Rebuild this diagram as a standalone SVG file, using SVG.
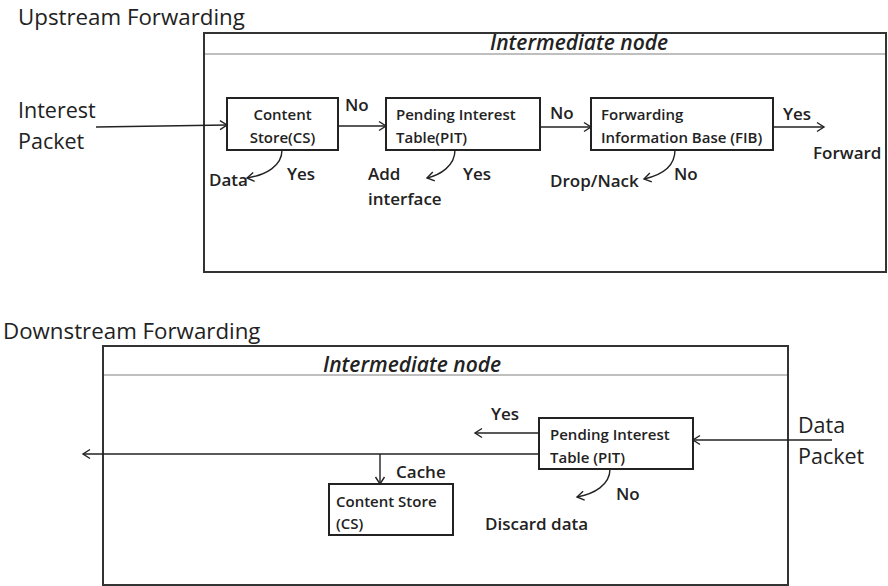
<svg xmlns="http://www.w3.org/2000/svg" width="888" height="586" viewBox="0 0 888 586">
  <defs>
    <marker id="arrow" markerUnits="userSpaceOnUse" markerWidth="12" markerHeight="12" refX="9" refY="6" orient="auto">
      <path d="M2,1.5 L9,6 L2,10.5" fill="none" stroke="#222" stroke-width="1.4"/>
    </marker>
    <style>
      .title { font-family: "Open Sans", "Liberation Sans", sans-serif; font-size: 22.3px; fill: #222; }
      .ext { font-family: "Open Sans", "Liberation Sans", sans-serif; font-size: 21.5px; fill: #222; }
      .hdr { font-family: "Open Sans", "Liberation Sans", sans-serif; font-size: 21px; font-weight: 600; font-style: italic; fill: #222; }
      .box { fill: #fff; stroke: #222; stroke-width: 2; }
      .frame { fill: #fff; stroke: #333; stroke-width: 2; }
      .sep { stroke: #aaa; stroke-width: 1.5; }
      .blab { font-family: "Open Sans", "Liberation Sans", sans-serif; font-size: 15px; font-weight: 600; fill: #222; }
      .lab { font-family: "Open Sans", "Liberation Sans", sans-serif; font-size: 17px; font-weight: 600; fill: #222; }
      .conn { fill: none; stroke: #222; stroke-width: 1.4; marker-end: url(#arrow); }
    </style>
  </defs>

  <rect width="888" height="586" fill="#fff"/>

  <!-- Upstream section -->
  <text class="title" x="18" y="25">Upstream Forwarding</text>

  <g id="upstream-node">
    <rect class="frame" x="204" y="33" width="682" height="239"/>
    <line class="sep" x1="205" y1="54" x2="885" y2="54"/>
    <text class="hdr" x="490" y="50">Intermediate node</text>
  </g>

  <g id="interest-packet">
    <text class="ext" x="18" y="118">Interest</text>
    <text class="ext" x="18" y="149">Packet</text>
  </g>

  <g id="up-cs">
    <rect class="box" x="227" y="98" width="111" height="52"/>
    <text class="blab" x="282.5" y="120" text-anchor="middle">Content</text>
    <text class="blab" x="282.5" y="143" text-anchor="middle">Store(CS)</text>
  </g>

  <g id="up-pit">
    <rect class="box" x="386" y="98" width="154" height="52"/>
    <text class="blab" x="396" y="120">Pending Interest</text>
    <text class="blab" x="396" y="143">Table(PIT)</text>
  </g>

  <g id="up-fib">
    <rect class="box" x="591" y="98" width="182" height="52"/>
    <text class="blab" x="601" y="120">Forwarding</text>
    <text class="blab" x="601" y="143">Information Base (FIB)</text>
  </g>

  <!-- Downstream section -->
  <text class="title" x="3" y="339">Downstream Forwarding</text>

  <g id="downstream-node">
    <rect class="frame" x="103" y="346" width="685" height="239"/>
    <line class="sep" x1="104" y1="375" x2="787" y2="375"/>
    <text class="hdr" x="323" y="372">Intermediate node</text>
  </g>

  <g id="data-packet">
    <text class="ext" x="798" y="433">Data</text>
    <text class="ext" x="798" y="464">Packet</text>
  </g>

  <g id="down-pit">
    <rect class="box" x="539" y="418" width="154" height="51"/>
    <text class="blab" x="550" y="440">Pending Interest</text>
    <text class="blab" x="550" y="463">Table (PIT)</text>
  </g>

  <g id="down-cs">
    <rect class="box" x="329" y="484" width="124" height="51"/>
    <text class="blab" x="336" y="507">Content Store</text>
    <text class="blab" x="336" y="529">(CS)</text>
  </g>

  <!-- Connectors -->
  <g id="connectors">
    <path class="conn" d="M96,127 L227,125"/>
    <path class="conn" d="M338,126 L386,126"/>
    <path class="conn" d="M540,127 L591,127"/>
    <path class="conn" d="M773,127 L824,127"/>
    <path class="conn" d="M282,150 C282,166 266,175 247,178"/>
    <path class="conn" d="M455,150 C455,166 440,175 427,178"/>
    <path class="conn" d="M675,150 C675,166 662,175 644,179"/>

    <path class="conn" d="M832,440 L693,440"/>
    <path class="conn" d="M539,433 L475,433"/>
    <path class="conn" d="M539,454 L83,454"/>
    <path class="conn" d="M380,454 L380,484"/>
    <path class="conn" d="M610,469 C610,485 594,494 577,497"/>
  </g>

  <!-- Connector labels -->
  <g id="labels">
    <text class="lab" x="345" y="111">No</text>
    <text class="lab" x="550" y="119">No</text>
    <text class="lab" x="783" y="120">Yes</text>
    <text class="lab" x="813" y="159">Forward</text>
    <text class="lab" x="209" y="186">Data</text>
    <text class="lab" x="287" y="180">Yes</text>
    <text class="lab" x="368" y="180">Add</text>
    <text class="lab" x="368" y="205">interface</text>
    <text class="lab" x="463" y="180">Yes</text>
    <text class="lab" x="550" y="187">Drop/Nack</text>
    <text class="lab" x="674" y="180">No</text>

    <text class="lab" x="491" y="420">Yes</text>
    <text class="lab" x="396" y="478">Cache</text>
    <text class="lab" x="616" y="500">No</text>
    <text class="lab" x="485" y="530">Discard data</text>
  </g>
</svg>
